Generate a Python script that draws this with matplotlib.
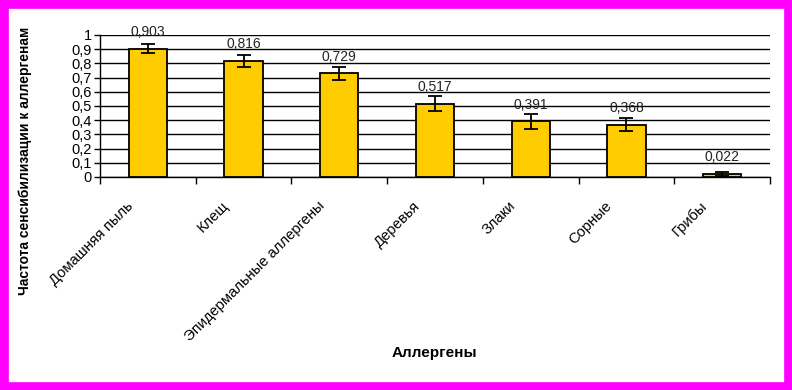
import matplotlib
matplotlib.use("Agg")
import matplotlib.pyplot as plt
from matplotlib.patches import Rectangle
from matplotlib.ticker import FixedLocator, FuncFormatter
from matplotlib.transforms import ScaledTranslation
import numpy as np

plt.rcParams['font.family'] = ['Liberation Sans', 'DejaVu Sans']

categories = ["Домашняя пыль", "Клещ", "Эпидермальные аллергены", "Деревья",
              "Злаки", "Сорные", "Грибы"]
values = [0.903, 0.816, 0.729, 0.517, 0.391, 0.368, 0.022]
errors = [0.033, 0.043, 0.048, 0.051, 0.051, 0.044, 0.014]
value_labels = ["0,903", "0,816", "0,729", "0,517", "0,391", "0,368", "0,022"]
y_ticks = [0, 0.1, 0.2, 0.3, 0.4, 0.5, 0.6, 0.7, 0.8, 0.9, 1.0]

fig = plt.figure(figsize=(7.92, 3.90), dpi=100)
fig.patch.set_facecolor('white')
fig.patches.append(Rectangle((0, 0), 1, 1, transform=fig.transFigure,
                             fill=False, edgecolor='#FF00FF', linewidth=12,
                             zorder=10))

ax = fig.add_axes([100/792, 1-177/390, 670/792, 142/390])
x = np.arange(len(categories))
ax.bar(x, values, width=0.4, color='#FFCC00', edgecolor='black', linewidth=1.3, zorder=3)
ax.errorbar(x, values, yerr=errors, fmt='none', ecolor='black', elinewidth=1.3,
            capsize=5, capthick=1.3, zorder=4)
for xi, v, lab in zip(x, values, value_labels):
    ax.annotate(lab, (xi, v), xytext=(0, 7), textcoords='offset points',
                ha='center', va='bottom', fontsize=10, color='#222222')

ax.set_xlim(-0.5, len(categories) - 0.5)
ax.set_ylim(0, 1)
ax.yaxis.set_major_locator(FixedLocator(y_ticks))
ax.yaxis.set_major_formatter(FuncFormatter(lambda v, p: ('%g' % round(v, 1)).replace('.', ',')))
ax.grid(axis='y', color='black', linewidth=1, zorder=0)
ax.set_axisbelow(True)
for s in ['top', 'right']:
    ax.spines[s].set_visible(False)
ax.spines['left'].set_linewidth(1)
ax.spines['bottom'].set_linewidth(1)
ax.tick_params(axis='y', length=4, width=1, labelsize=10.5, pad=2)

ax.set_xticks(x)
ax.set_xticklabels(categories, rotation=45, ha='right', rotation_mode='anchor', fontsize=10.6)
ax.tick_params(axis='x', which='major', length=0, pad=10)
offset = ScaledTranslation(-22/100, -8/100, fig.dpi_scale_trans)
for lbl in ax.get_xticklabels():
    lbl.set_transform(lbl.get_transform() + offset)
ax.xaxis.set_minor_locator(FixedLocator(np.arange(-0.5, len(categories), 1.0)))
ax.tick_params(axis='x', which='minor', length=5, width=1)

fig.text(434/792, 1-353/390, "Аллергены", ha='center', va='center',
         fontsize=11, fontweight='bold')
fig.text(25/792, 1-161/390, "Частота сенсибилизации к аллергенам", ha='center', va='center',
         rotation=90, fontsize=10, fontweight='bold')

fig.savefig("out.png", dpi=100, facecolor='white')
